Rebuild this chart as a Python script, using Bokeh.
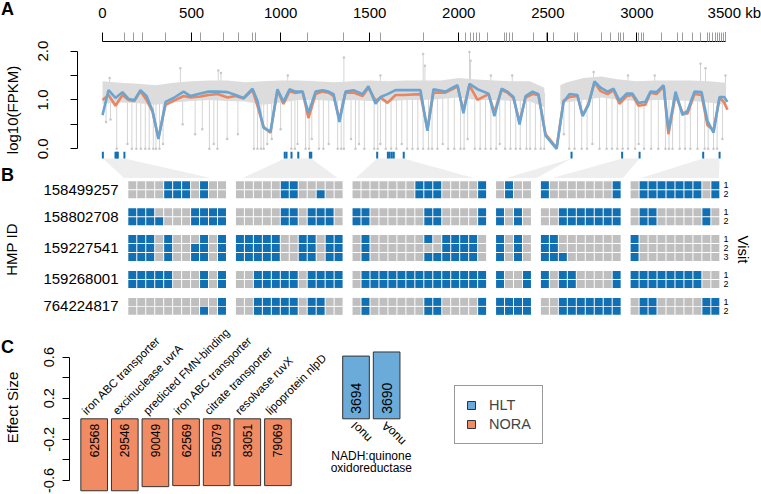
import math
from bokeh.plotting import figure
from bokeh.models import Range1d, LinearAxis, FixedTicker, Legend, LegendItem, Div
from bokeh.layouts import column
from bokeh.embed import file_html
from bokeh.resources import INLINE
from bokeh.core.properties import value

FONT = "Liberation Sans"
W = 761

# ======================= DATA =======================
# ---- Panel A : genome track ----
genome_ticks_kb = [0, 500, 1000, 1500, 2000, 2500, 3000, 3500]
genome_tick_labels = ["0", "500", "1000", "1500", "2000", "2500", "3000", "3500"]
genome_unit = "kb"
gene_kb = [123, 172, 223, 354, 550, 679, 762, 844, 859, 1149, 1355, 1561, 1800, 2038, 2066,
           2080, 2098, 2115, 2161, 2257, 2270, 2283, 2302, 2420, 2491, 2532, 2652, 2665, 2801,
           2852, 2895, 2910, 2925, 3010, 3024, 3037, 3138, 3226, 3254, 3310, 3357, 3394, 3410,
           3425, 3440, 3452, 3465, 3475, 3485, 3495]
fpkm_ticks = [0, 0.5, 1.0, 1.5, 2.0]
fpkm_tick_labels = ["0.0", "", "1.0", "", "2.0"]

window_kb = [0, 34, 73, 112, 146, 180, 213, 247, 281, 314,
             354, 399, 455, 494, 550, 595, 646, 702, 747, 792,
             842, 870, 904, 943, 982, 1016, 1050, 1083, 1123, 1156,
             1196, 1235, 1269, 1297, 1330, 1364, 1409, 1460, 1493, 1533,
             1561, 1600, 1645, 1690, 1785, 1824, 1858, 1925, 1965, 1993,
             2026, 2060, 2105, 2167, 2200, 2240, 2273, 2307, 2341, 2375,
             2414, 2447, 2487, 2549, 2588, 2622, 2666, 2695, 2728, 2762,
             2796, 2835, 2869, 2902, 2942, 2975, 3009, 3048, 3076, 3110,
             3150, 3177, 3217, 3256, 3284, 3323, 3363, 3396, 3430, 3464,
             3490, 3508]
hlt_log10_fpkm = [0.69, 1.20, 1.04, 1.16, 1.02, 1.00, 1.20, 1.08, 0.78, 0.20,
                  0.96, 1.04, 1.17, 1.08, 1.13, 1.17, 1.17, 1.16, 1.10, 1.04,
                  1.23, 0.98, 0.43, 0.35, 1.22, 0.96, 1.22, 1.17, 1.17, 0.73,
                  1.17, 1.20, 1.17, 1.12, 0.55, 1.17, 1.20, 1.12, 1.28, 0.92,
                  1.06, 1.12, 1.20, 1.20, 1.20, 0.37, 1.22, 1.17, 1.25, 1.30,
                  0.73, 1.33, 1.22, 1.13, 0.67, 1.23, 1.17, 1.06, 0.50, 1.08,
                  1.17, 1.12, 0.27, 0.00, 0.96, 1.12, 1.10, 0.67, 0.90, 1.38,
                  1.25, 1.17, 1.23, 0.98, 1.13, 1.13, 0.94, 0.96, 1.17, 1.16,
                  1.30, 0.37, 1.17, 0.69, 0.78, 1.17, 1.16, 0.57, 0.33, 1.06,
                  1.06, 0.96]
nora_log10_fpkm = [1.00, 1.10, 0.88, 1.10, 1.00, 0.98, 1.18, 1.00, 0.76, 0.22,
                   0.90, 0.98, 1.08, 1.05, 1.07, 1.10, 1.12, 1.05, 1.08, 1.03,
                   1.20, 0.88, 0.45, 0.33, 1.20, 0.92, 1.18, 1.14, 1.17, 0.63,
                   1.12, 1.17, 1.15, 1.08, 0.60, 1.15, 1.15, 1.08, 1.25, 0.98,
                   1.05, 0.94, 1.10, 1.10, 1.12, 0.40, 1.15, 1.15, 1.22, 1.28,
                   0.78, 1.30, 1.00, 1.12, 0.75, 1.20, 1.15, 1.04, 0.55, 1.05,
                   1.12, 1.10, 0.30, 0.02, 0.98, 1.06, 1.08, 0.68, 0.92, 1.36,
                   1.18, 1.12, 1.20, 0.92, 1.08, 1.10, 0.88, 0.90, 1.15, 1.12,
                   1.28, 0.30, 1.10, 0.74, 0.72, 1.12, 1.10, 0.48, 0.38, 1.05,
                   0.95, 0.80]

# grey per-gene cloud (summarised as a band, drops to zero and upward outliers)
band_kb = [0, 100, 200, 300, 400, 500, 600, 700, 800, 900, 1000, 1100, 1200, 1300, 1400,
           1500, 1600, 1700, 1800, 1900, 2000, 2100, 2200, 2300, 2400, 2480,
           2570, 2600, 2700, 2800, 2900, 3000, 3100, 3200, 3300, 3400, 3500]
band_lo = [0.92, 0.95, 0.93, 0.90, 0.95, 0.98, 1.00, 0.98, 0.97, 0.90, 0.95, 1.00, 1.00, 0.98, 1.00,
           0.98, 0.97, 1.00, 1.00, 1.02, 1.05, 1.00, 1.00, 0.98, 0.97, 0.85,
           0.90, 0.95, 1.00, 1.05, 1.00, 0.98, 1.00, 1.00, 0.98, 0.95, 0.90]
band_hi = [1.38, 1.35, 1.33, 1.30, 1.35, 1.38, 1.40, 1.40, 1.36, 1.38, 1.40, 1.40, 1.38, 1.36, 1.38,
           1.40, 1.38, 1.40, 1.40, 1.40, 1.45, 1.42, 1.40, 1.38, 1.38, 1.25,
           1.30, 1.35, 1.45, 1.48, 1.42, 1.38, 1.40, 1.40, 1.40, 1.38, 1.35]
band_gap_kb = 2500
drop_kb = [20, 45, 80, 140, 165, 190, 215, 240, 262, 285,
           300, 320, 340, 450, 520, 560, 600, 625, 645, 700,
           760, 850, 870, 890, 905, 925, 950, 1000, 1060, 1080,
           1095, 1140, 1160, 1175, 1215, 1240, 1270, 1320, 1340, 1355,
           1395, 1420, 1440, 1470, 1525, 1545, 1560, 1590, 1620, 1650,
           1680, 1710, 1740, 1770, 1800, 1830, 1850, 1880, 1910, 1940,
           1975, 2010, 2030, 2050, 2090, 2120, 2150, 2180, 2210, 2230,
           2260, 2290, 2320, 2345, 2380, 2400, 2430, 2460, 2480, 2590,
           2620, 2650, 2690, 2720, 2750, 2790, 2830, 2860, 2890, 2920,
           2950, 2990, 3010, 3040, 3080, 3120, 3160, 3180, 3200, 3240,
           3270, 3300, 3340, 3380, 3400, 3430, 3450, 3480]
drop_lo = [0.55, 0.60, 0.00, 0.10, 0.00, 0.00, 0.00, 0.00, 0.00, 0.00,
           0.00, 0.00, 0.10, 0.50, 0.30, 0.40, 0.00, 0.10, 0.00, 0.20,
           0.30, 0.00, 0.00, 0.00, 0.00, 0.10, 0.20, 0.40, 0.00, 0.00,
           0.10, 0.00, 0.00, 0.20, 0.00, 0.00, 0.10, 0.00, 0.00, 0.00,
           0.20, 0.00, 0.10, 0.00, 0.00, 0.00, 0.10, 0.00, 0.00, 0.00,
           0.10, 0.00, 0.00, 0.00, 0.00, 0.00, 0.00, 0.00, 0.10, 0.00,
           0.00, 0.00, 0.00, 0.20, 0.00, 0.00, 0.00, 0.00, 0.00, 0.10,
           0.00, 0.00, 0.00, 0.00, 0.00, 0.00, 0.00, 0.00, 0.00, 0.30,
           0.00, 0.00, 0.00, 0.00, 0.10, 0.00, 0.00, 0.00, 0.00, 0.00,
           0.00, 0.00, 0.10, 0.00, 0.00, 0.00, 0.00, 0.00, 0.00, 0.00,
           0.00, 0.00, 0.00, 0.00, 0.00, 0.00, 0.00, 0.20]
drop_top = 1.15
spike_kb = [40, 437, 650, 665, 1040, 1355, 1560, 1800, 1810, 2060, 2066, 2180, 2300, 2757,
            2950, 3100, 3357, 3385, 3497]
spike_hi = [1.45, 1.65, 1.60, 1.55, 1.50, 1.87, 1.50, 1.94, 1.70, 1.98, 1.80, 1.50, 1.50, 1.57,
            1.50, 1.50, 1.74, 1.65, 1.50]
spike_base = 1.25

# genes highlighted in panel B (kb) and the block they belong to
feature_kb = [2, 73, 80, 86, 123,
              1023, 1033, 1061, 1099, 1164, 1172,
              1542, 1602, 1612, 1624, 1635, 1691,
              2633,
              2917, 3015,
              3372, 3464]
feature_block = [0, 0, 0, 0, 0,
                 1, 1, 1, 1, 1, 1,
                 2, 2, 2, 2, 2, 2,
                 3,
                 4, 4,
                 5, 5]

# ---- Panel B : gene presence per subject / visit ----
block_sizes = [11, 12, 15, 4, 9, 10]
hmp_ids = ["158499257", "158802708", "159227541", "159268001", "764224817"]
presence_158499257 = ["00001110100 000001100000 000000011100001 0100 100000001 0111111101",
                      "00001110100 000001100100 000000011100001 0100 100000001 0111111101"]
presence_158802708 = ["11100001111 000001101110 110000001100001 1010 001111111 0110000010",
                      "11110001111 000001101110 110000001100001 1010 001111111 0110000010"]
presence_159227541 = ["11101000101 111110011011 010000001011110 1010 110000000 1000000000",
                      "11101001101 111110011011 010000000011110 1010 110000000 1000000000",
                      "11101001101 111110011011 010000001111110 1010 111000000 1000000000"]
presence_159268001 = ["11111000101 001111101111 011111111111111 1001 101100001 1111111100",
                      "11111000101 001111101111 011111111111111 1001 101100001 1111111100"]
presence_764224817 = ["00000000001 001111101100 010000001100001 1111 001111111 0110000011",
                      "00000000101 001111101100 010000001100001 1111 001111111 0110000011"]
presence = [presence_158499257, presence_158802708, presence_159227541,
            presence_159268001, presence_764224817]

# ---- Panel C : effect sizes ----
nora_genes = ["iron ABC transporter", "excinuclease uvrA", "predicted FMN-binding",
              "iron ABC transporter", "citrate transporter", "resolvase ruvX", "lipoprotein nlpD"]
nora_ids = ["62568", "29546", "90049", "62569", "55079", "83051", "79069"]
nora_effect = [-0.70, -0.70, -0.66, -0.65, -0.65, -0.65, -0.65]
hlt_genes = ["nuoI", "nuoA"]
hlt_ids = ["3694", "3690"]
hlt_effect = [0.61, 0.65]
hlt_group_name = ["NADH:quinone", "oxidoreductase"]
effect_ticks = [-0.6, -0.4, -0.2, 0.0, 0.2, 0.4, 0.6]
effect_tick_labels = ["-0.6", "", "-0.2", "", "0.2", "", "0.6"]
panel_letters = ["A", "B", "C"]

# ======================= STYLE =======================
CELL_BLUE = "#1170b4"
CELL_GREY = "#bfbfbf"
HLT_LINE = "#6aa5d1"
NORA_LINE = "#ea8560"
HLT_BAR = "#6aabd9"
NORA_BAR = "#f08b63"
BAND = "#dcdcdc"
DROP = "#d4d4d4"
TRAP = "#eeeeee"


def clean(p):
    p.xgrid.visible = False
    p.ygrid.visible = False
    p.outline_line_color = None
    p.background_fill_color = "white"
    p.border_fill_color = "white"
    p.frame_align = False


def style_axis(ax, size="15px"):
    ax.major_label_text_font = FONT
    ax.major_label_text_font_size = size
    ax.major_label_text_color = "black"
    ax.axis_label_text_font = FONT
    ax.axis_label_text_font_size = "15px"
    ax.axis_label_text_font_style = "normal"
    ax.axis_label_text_color = "black"
    ax.minor_tick_line_color = None


# ======================= PANEL A =======================
A_H, A_TOP, A_LEFT, A_RIGHT = 178, 35, 77, 730
KB0_PX, PX_PER_KB = 102.0, 0.17814
FPKM0_PX, PX_PER_FPKM = 147.0, 51.0


def a_x(px):
    return (px - KB0_PX) / PX_PER_KB


def a_y(py):
    return (FPKM0_PX - py) / PX_PER_FPKM


pA = figure(width=W, height=A_H, x_range=Range1d(a_x(A_LEFT), a_x(A_RIGHT)),
            y_range=Range1d(a_y(A_H), a_y(A_TOP)), x_axis_location="above",
            output_backend="svg", toolbar_location=None,
            min_border_left=A_LEFT, min_border_right=W - A_RIGHT,
            min_border_top=A_TOP, min_border_bottom=0)
clean(pA)

# grid geometry of panel B (needed for the connecting wedges)
GRID_PX0, GRID_PY0, CELL = 127.3, 180.3, 8.97
block_start = []
_s = 0
for n in block_sizes:
    block_start.append(_s)
    _s += n + 1

wx, wy = [], []
for b, n in enumerate(block_sizes):
    fk = [k for k, bb in zip(feature_kb, feature_block) if bb == b]
    left_px = GRID_PX0 + CELL * block_start[b]
    right_px = GRID_PX0 + CELL * (block_start[b] + n) - 1
    wx.append([min(fk), max(fk), a_x(right_px), a_x(left_px)])
    wy.append([a_y(157), a_y(157), a_y(181), a_y(181)])
pA.patches(wx, wy, fill_color=TRAP, line_color=None)

# grey cloud
seg1 = [i for i, k in enumerate(band_kb) if k < band_gap_kb]
seg2 = [i for i, k in enumerate(band_kb) if k > band_gap_kb]
pA.segment(x0=drop_kb, y0=drop_lo, x1=drop_kb, y1=[drop_top] * len(drop_kb),
           line_color=DROP, line_width=1)
pA.segment(x0=spike_kb, y0=[spike_base] * len(spike_kb), x1=spike_kb, y1=spike_hi,
           line_color=DROP, line_width=1)
for seg in (seg1, seg2):
    pA.varea(x=[band_kb[i] for i in seg], y1=[band_lo[i] for i in seg],
             y2=[band_hi[i] for i in seg], fill_color=BAND)
pA.scatter(x=drop_kb, y=drop_lo, size=2.5, marker="circle", fill_color="#c8c8c8",
           line_color=None)
pA.scatter(x=spike_kb, y=spike_hi, size=2.5, marker="circle", fill_color="#c8c8c8",
           line_color=None)

# highlighted genes
pA.segment(x0=feature_kb, x1=feature_kb, y0=[a_y(150)] * len(feature_kb),
           y1=[a_y(157)] * len(feature_kb), line_color=CELL_BLUE, line_width=2)

pA.line(window_kb, nora_log10_fpkm, line_color=NORA_LINE, line_width=2.6)
pA.line(window_kb, hlt_log10_fpkm, line_color=HLT_LINE, line_width=2.6)

xa = pA.xaxis[0]
style_axis(xa)
xa.ticker = FixedTicker(ticks=genome_ticks_kb, minor_ticks=gene_kb)
xa.bounds = (genome_ticks_kb[0], genome_ticks_kb[-1])
g_over = {t: l for t, l in zip(genome_ticks_kb, genome_tick_labels)}
# last label carries the unit, padded on the left so the number stays centred on its tick
g_over[genome_ticks_kb[-1]] = "\u00a0" * 4 + genome_tick_labels[-1] + " " + genome_unit
xa.major_label_overrides = g_over
xa.major_tick_in = 0
xa.major_tick_out = 9
xa.minor_tick_in = 0
xa.minor_tick_out = 9
xa.minor_tick_line_color = "#9c9c9c"
xa.major_tick_line_color = "black"
xa.axis_line_color = "black"
xa.major_label_standoff = 12

ya = pA.yaxis[0]
style_axis(ya)
ya.ticker = FixedTicker(ticks=fpkm_ticks)
ya.bounds = (fpkm_ticks[0], fpkm_ticks[-1])
ya.major_label_overrides = {t: l for t, l in zip(fpkm_ticks, fpkm_tick_labels)}
ya.major_label_orientation = "vertical"
ya.major_tick_in = 0
ya.major_tick_out = 7
ya.major_label_standoff = 22
ya.axis_label = "log10(FPKM)"
ya.axis_label_standoff = 15

# ======================= PANEL B =======================
B_TOP, B_H, B_LEFT, B_RIGHT = 178, 142, 125, 720


def b_x(px):
    return (px - GRID_PX0) / CELL


def b_y(py):
    return (py - GRID_PY0) / CELL


pB = figure(width=W, height=B_H, x_range=Range1d(b_x(B_LEFT), b_x(B_RIGHT)),
            y_range=Range1d(b_y(B_TOP + B_H), b_y(B_TOP)), x_axis_location=None,
            output_backend="svg", toolbar_location=None,
            min_border_left=B_LEFT, min_border_right=W - B_RIGHT,
            min_border_top=0, min_border_bottom=0)
clean(pB)

cx, cy, cc = [], [], []
id_ticks, id_over, visit_ticks, visit_over = [], {}, [], {}
row = 0
for sid, visits in zip(hmp_ids, presence):
    for v, pattern in enumerate(visits):
        for b, bits in enumerate(pattern.split()):
            for j, ch in enumerate(bits):
                cx.append(block_start[b] + j + 0.5)
                cy.append(row + v + 0.5)
                cc.append(CELL_BLUE if ch == "1" else CELL_GREY)
        visit_ticks.append(row + v + 0.5)
        visit_over[row + v + 0.5] = str(v + 1)
    id_ticks.append(row + len(visits) / 2)
    id_over[row + len(visits) / 2] = sid
    row += len(visits) + 1

pB.rect(x=cx, y=cy, width=0.89, height=0.89, fill_color=cc, line_color=None)

yb = pB.yaxis[0]
style_axis(yb)
yb.ticker = FixedTicker(ticks=id_ticks)
yb.major_label_overrides = id_over
yb.axis_line_color = None
yb.major_tick_line_color = None
yb.major_tick_in = 0
yb.major_tick_out = 0
yb.major_label_standoff = 7
yb.axis_label = "HMP ID"
yb.axis_label_standoff = 20

yr = LinearAxis(ticker=FixedTicker(ticks=visit_ticks), major_label_overrides=visit_over)
style_axis(yr, "9px")
yr.axis_line_color = None
yr.major_tick_line_color = None
yr.major_tick_in = 0
yr.major_tick_out = 0
yr.major_label_standoff = 3
yr.axis_label = "Visit"
yr.axis_label_standoff = 3
pB.add_layout(yr, "right")

# ======================= PANEL C =======================
C_TOP, C_H, C_LEFT = 320, 174, 68
EFF0_PX, PX_PER_EFF = 418.3, 102.8
BAR0_PX, BAR_PITCH = 92.7, 30.67
GROUP_GAP = 1.55


def c_x(px):
    return (px - BAR0_PX) / BAR_PITCH


def c_y(py):
    return (EFF0_PX - py) / PX_PER_EFF


pC = figure(width=W, height=C_H, x_range=Range1d(c_x(C_LEFT), c_x(W)),
            y_range=Range1d(c_y(C_TOP + C_H), c_y(C_TOP)), x_axis_location=None,
            output_backend="svg", toolbar_location=None,
            min_border_left=C_LEFT, min_border_right=0, min_border_top=0, min_border_bottom=0)
clean(pC)

nora_x = list(range(len(nora_effect)))
hlt_x = [len(nora_effect) + GROUP_GAP + i for i in range(len(hlt_effect))]

r_nora = pC.vbar(x=nora_x, top=0, bottom=nora_effect, width=0.87, fill_color=NORA_BAR,
                 line_color="#333333", line_width=1)
r_hlt = pC.vbar(x=hlt_x, top=hlt_effect, bottom=0, width=0.87, fill_color=HLT_BAR,
                line_color="#333333", line_width=1)

pC.text(x=nora_x, y=[0] * len(nora_x), text=nora_ids, angle=math.pi / 2, text_align="right",
        text_baseline="middle", y_offset=5, text_font=value(FONT), text_font_size="12px")
pC.text(x=hlt_x, y=[0] * len(hlt_x), text=hlt_ids, angle=math.pi / 2, text_align="left",
        text_baseline="middle", y_offset=-5, text_font=value(FONT), text_font_size="14px")
pC.text(x=nora_x, y=[0] * len(nora_x), text=nora_genes, angle=math.pi / 4, text_align="left",
        text_baseline="bottom", x_offset=-6, y_offset=-2, text_font=value(FONT),
        text_font_size="11.5px")
pC.text(x=hlt_x, y=[0] * len(hlt_x), text=hlt_genes, angle=3 * math.pi / 4, text_align="right",
        text_baseline="middle", x_offset=-3, y_offset=5, text_font=value(FONT),
        text_font_size="12px")
mid = sum(hlt_x) / len(hlt_x)
pC.text(x=[mid, mid], y=[0, 0], text=hlt_group_name, y_offset=[37, 49], text_align="center",
        text_baseline="middle", text_font=value(FONT), text_font_size="12px")

yc = pC.yaxis[0]
style_axis(yc, "14.5px")
yc.ticker = FixedTicker(ticks=effect_ticks)
yc.bounds = (effect_ticks[0], effect_ticks[-1])
yc.major_label_overrides = {t: l for t, l in zip(effect_ticks, effect_tick_labels)}
yc.major_label_orientation = "vertical"
yc.major_tick_in = 0
yc.major_tick_out = 7
yc.major_label_standoff = 8
yc.axis_label = "Effect Size"
yc.axis_label_standoff = 21

legend = Legend(items=[LegendItem(label="HLT", renderers=[r_hlt]),
                       LegendItem(label="NORA", renderers=[r_nora])],
                location=(385, 50), orientation="vertical")
legend.label_text_font = FONT
legend.label_text_font_size = "14.5px"
legend.glyph_width = 10
legend.glyph_height = 10
legend.label_height = 14
legend.label_standoff = 13
legend.spacing = 3
legend.padding = 11
legend.margin = 0
legend.border_line_color = "#333333"
legend.border_line_width = 1
legend.background_fill_alpha = 1
pC.add_layout(legend)


# ======================= PANEL LETTERS =======================
def letter(txt, left, top):
    return Div(text=txt, width=16, height=20, margin=0,
               styles={"position": "absolute", "left": f"{left}px", "top": f"{top}px",
                       "font-family": "'Liberation Sans', Arial, sans-serif",
                       "font-size": "18px", "font-weight": "bold", "line-height": "18px",
                       "color": "black", "z-index": "10"})


letters = [letter(t, l, tp) for t, l, tp in zip(panel_letters, [1, 1, 1], [0, 166, 338])]

root = column(pA, pB, pC, *letters, spacing=0)
open("out.html", "w").write(file_html(root, INLINE))
